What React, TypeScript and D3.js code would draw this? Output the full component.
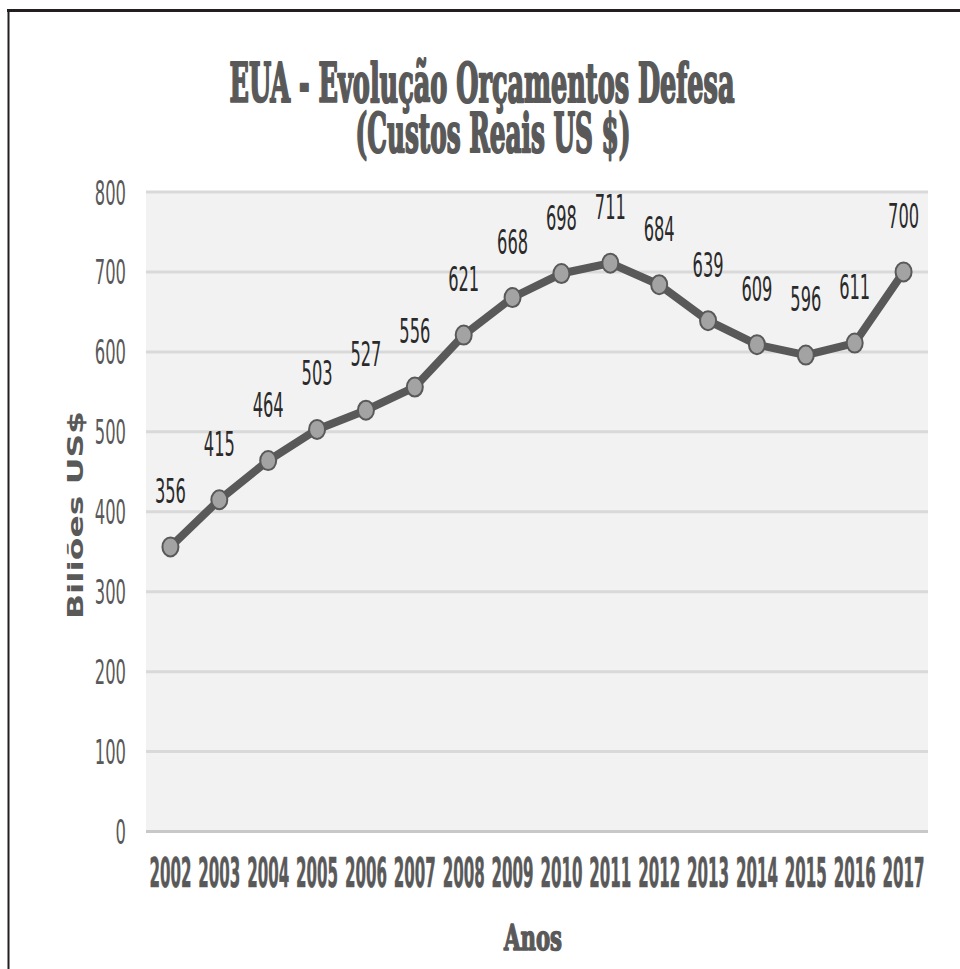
import * as d3 from 'd3';
import React from 'react';

const years = ['2002', '2003', '2004', '2005', '2006', '2007', '2008', '2009',
  '2010', '2011', '2012', '2013', '2014', '2015', '2016', '2017'];
const budgets = [356, 415, 464, 503, 527, 556, 621, 668, 698, 711, 684, 639, 609, 596, 611, 700];
const yTicks = [0, 100, 200, 300, 400, 500, 600, 700, 800];

const titleLines = ['EUA - Evolução Orçamentos Defesa', '(Custos Reais US $)'];
const yTitle = 'Biliões US$';
const xTitle = 'Anos';

const width = 960;
const height = 969;
const plotLeft = 146;
const plotRight = 928;
const plotTop = 192;
const plotBottom = 831.5;

const gray = '#595959';
const narrow = '"DejaVu Sans Condensed", "DejaVu Sans", sans-serif';
const slab = '"DejaVu Serif Condensed", "DejaVu Serif", serif';

export default function App() {
  // x is a band per year, points sit in the middle of the band
  const x = d3.scaleBand<string>().domain(years).range([plotLeft, plotRight]);
  const cx = (yr: string) => (x(yr) ?? 0) + x.bandwidth() / 2;

  const y = d3.scaleLinear().domain([0, 800]).range([plotBottom, plotTop]);

  const points = years.map((yr, i) => ({ yr, v: budgets[i] }));

  const line = d3.line<{ yr: string; v: number }>()
    .x(d => cx(d.yr))
    .y(d => y(d.v));

  return (
    <svg width={width} height={height} viewBox={`0 0 ${width} ${height}`}
      style={{ position: 'absolute', left: 0, top: 0, background: '#fff' }}>
      {/* frame of the pasted image */}
      <line x1={7} x2={960} y1={10.5} y2={10.5} stroke="#231f20" strokeWidth={3} />
      <line x1={8.5} x2={8.5} y1={9} y2={969} stroke="#231f20" strokeWidth={2} />

      {/* title, stroked a bit to get the heavy slab look */}
      <g fontFamily={slab} fontWeight="bold" fontSize={54} fill={gray} stroke={gray}
        strokeWidth={2.2} strokeLinejoin="round" textAnchor="middle">
        <text x={482} y={102} textLength={505} lengthAdjust="spacingAndGlyphs">
          {titleLines[0]}
        </text>
        <text x={493} y={152} textLength={275} lengthAdjust="spacingAndGlyphs">
          {titleLines[1]}
        </text>
      </g>

      {/* plot background */}
      <rect x={plotLeft} y={plotTop} width={plotRight - plotLeft} height={plotBottom - plotTop}
        fill="#f2f2f2" />

      {/* gridlines and y ticks */}
      {yTicks.map(t => (
        <g key={t}>
          <line x1={plotLeft} x2={plotRight} y1={y(t)} y2={y(t)}
            stroke={t === 0 ? '#c8c8c8' : '#d9d9d9'} strokeWidth={3} />
          <text x={126} y={y(t) + 12.5} textAnchor="end" fontFamily={narrow}
            fontSize={34} fill={gray} textLength={String(t).length * 10.4}
            lengthAdjust="spacingAndGlyphs">
            {t}
          </text>
        </g>
      ))}

      {/* x tick labels */}
      {years.map(yr => (
        <text key={yr} x={cx(yr)} y={887} textAnchor="middle" fontFamily={narrow}
          fontWeight="bold" fontSize={41} fill={gray} stroke={gray} strokeWidth={0.6}
          textLength={42} lengthAdjust="spacingAndGlyphs">
          {yr}
        </text>
      ))}

      {/* axis titles */}
      <text transform={`translate(83,515) rotate(-90)`} textAnchor="middle"
        fontFamily='"DejaVu Sans", sans-serif' fontWeight="bold" fontSize={21} fill={gray}
        textLength={208} lengthAdjust="spacingAndGlyphs">
        {yTitle}
      </text>
      <text x={533} y={950} textAnchor="middle" fontFamily={slab} fontWeight="bold"
        fontSize={36} fill={gray} stroke={gray} strokeWidth={1.5} strokeLinejoin="round"
        textLength={58} lengthAdjust="spacingAndGlyphs">
        {xTitle}
      </text>

      {/* series */}
      <path d={line(points) ?? ''} fill="none" stroke={gray} strokeWidth={8}
        strokeLinejoin="round" />
      {points.map(p => (
        <ellipse key={p.yr} cx={cx(p.yr)} cy={y(p.v)} rx={8} ry={9.5}
          fill="#a3a3a3" stroke={gray} strokeWidth={2} />
      ))}

      {/* data labels */}
      {points.map(p => (
        <text key={'l' + p.yr} x={cx(p.yr)} y={y(p.v) - 44} textAnchor="middle"
          fontFamily={narrow} fontSize={34} fill="#2a2a2a" textLength={31}
          lengthAdjust="spacingAndGlyphs">
          {p.v}
        </text>
      ))}
    </svg>
  );
}
